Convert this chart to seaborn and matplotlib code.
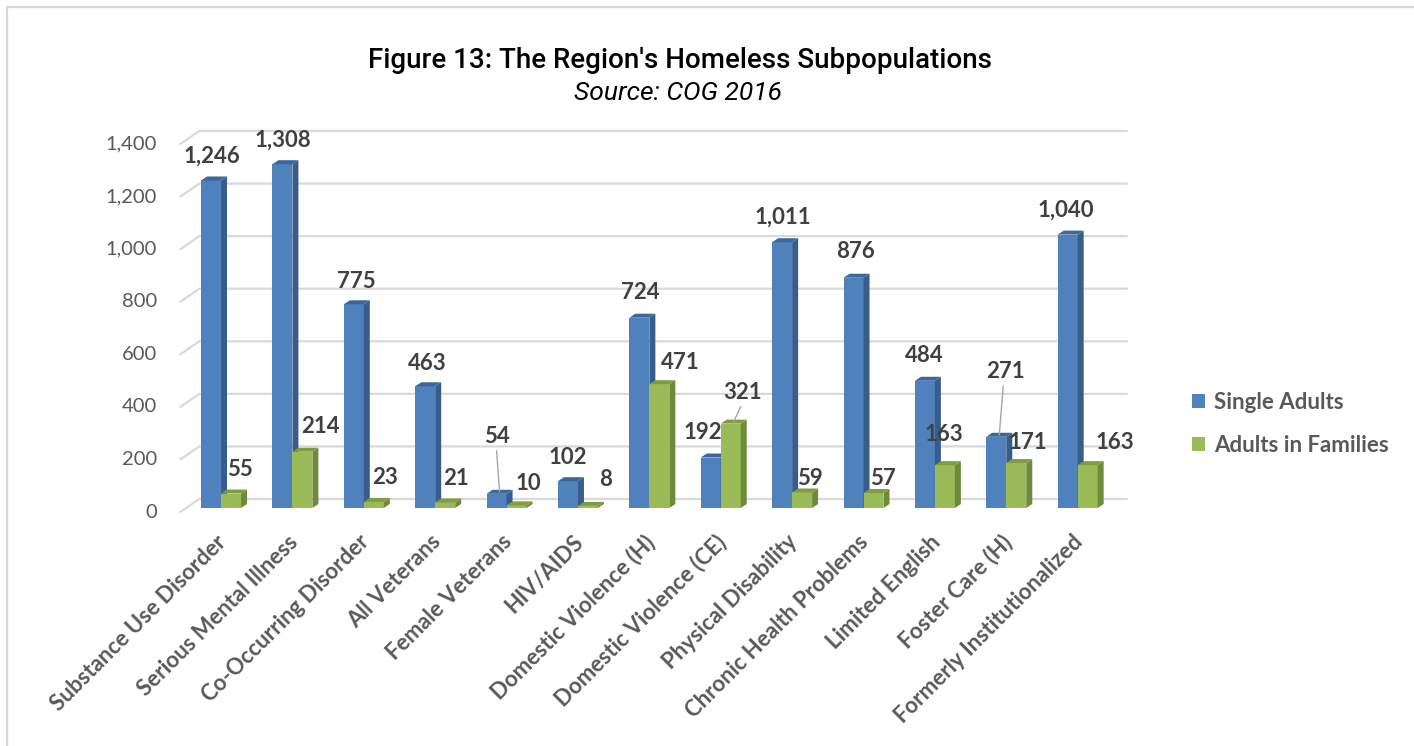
import matplotlib
matplotlib.use("Agg")
import matplotlib.pyplot as plt
import seaborn as sns
import pandas as pd
from matplotlib.patches import Polygon, Patch
from matplotlib.lines import Line2D
from matplotlib.transforms import IdentityTransform, ScaledTranslation

# ---- data -------------------------------------------------------------
categories = [
    "Substance Use Disorder", "Serious Mental Illness", "Co-Occurring Disorder",
    "All Veterans", "Female Veterans", "HIV/AIDS", "Domestic Violence (H)",
    "Domestic Violence (CE)", "Physical Disability", "Chronic Health Problems",
    "Limited English", "Foster Care (H)", "Formerly Institutionalized",
]
single_adults = [1246, 1308, 775, 463, 54, 102, 724, 192, 1011, 876, 484, 271, 1040]
adults_in_families = [55, 214, 23, 21, 10, 8, 471, 321, 59, 57, 163, 171, 163]
series_names = ["Single Adults", "Adults in Families"]
y_ticks = [0, 200, 400, 600, 800, 1000, 1200, 1400]

# ---- label placement (pixel offsets from the bar's front-top centre) ----
blue_lbl_dx = [1, 0, 3, 2, 0, 0, 1, -8, 1, 2, -1, 9, -2]
blue_lbl_dy = [24, 24, 23, 23, 57, 24, 25, 25, 25, 26, 25, 65, 24]
green_lbl_dx = [9, 18, 11, 11, 12, 18, 21, 12, 8, 9, -1, 12, 27]
green_lbl_dy = [24, 25, 24, 24, 22, 26, 22, 31, 14, 15, 31, 21, 23]
blue_leaders = {4, 11}
green_leaders = {7}

# ---- style ------------------------------------------------------------
BLUE, BLUE_SIDE, BLUE_TOP = "#4f81bd", "#385d8a", "#3d679b"
GREEN, GREEN_SIDE, GREEN_TOP = "#9bbb59", "#6e8a3a", "#7f9c45"
GRID = "#d9d9d9"
TICK_TXT = "#595959"
VAL_TXT = "#404040"
W, H = 1414, 746
BAR_DX, BAR_DY = 6, 4          # bar depth (px)
GRID_DX, GRID_DY = 19, 13      # back-wall offset (px)

df = pd.DataFrame({
    "Subpopulation": categories * 2,
    "Persons": single_adults + adults_in_families,
    "Group": [series_names[0]] * len(categories) + [series_names[1]] * len(categories),
})

sns.set_theme(style="white")
plt.rcParams["font.family"] = ["Lato", "DejaVu Sans"]

fig = plt.figure(figsize=(W / 100, H / 100), dpi=100)
fig.patch.set_facecolor("white")
ax = fig.add_axes([178.2 / W, (H - 508) / H, 953 / W, 368 / H])

sns.barplot(data=df, x="Subpopulation", y="Persons", hue="Group",
            palette=[BLUE, GREEN], width=0.56, gap=0, saturation=1,
            linewidth=0, legend=False, ax=ax)
ax.set_xlim(-0.6, 12.75)
ax.set_ylim(0, 1400)
ax.set_facecolor("none")
for s in ax.spines.values():
    s.set_visible(False)
ax.set_xlabel("")
ax.set_ylabel("")
ax.set_yticks([])
ax.grid(False)

ident = IdentityTransform()


def disp(x, y):
    return ax.transData.transform((x, y))


# back wall gridlines with the short diagonal floor edge on the left
x_front = disp(-0.57, 0)[0]
x_right = disp(12.69, 0)[0]
for v in y_ticks:
    _, yb = disp(0, v)
    yf = yb - 4
    ax.add_line(Line2D([x_front, x_front + GRID_DX, x_right],
                       [yf, yf + GRID_DY, yf + GRID_DY],
                       transform=ident, color=GRID, lw=1.6, clip_on=False, zorder=1))
    ax.text(157, yf, f"{v:,}", transform=ident, ha="right", va="center",
            fontsize=14.5, color=TICK_TXT)

# 3-D faces for each bar + value labels
series_style = [
    (BLUE_SIDE, BLUE_TOP, blue_lbl_dx, blue_lbl_dy, blue_leaders, 3),
    (GREEN_SIDE, GREEN_TOP, green_lbl_dx, green_lbl_dy, green_leaders, 4),
]
for container, vals, style in zip(ax.containers, [single_adults, adults_in_families], series_style):
    side, top, ldx, ldy, leaders, z = style
    for i, (bar, val) in enumerate(zip(container.patches, vals)):
        bar.set_zorder(z)
        x0, x1 = bar.get_x(), bar.get_x() + bar.get_width()
        (px0, py0), (px1, py1) = disp(x0, 0), disp(x1, bar.get_height())
        ax.add_patch(Polygon([(px1, py0), (px1 + BAR_DX, py0 + BAR_DY),
                              (px1 + BAR_DX, py1 + BAR_DY), (px1, py1)],
                             closed=True, transform=ident, facecolor=side,
                             edgecolor="none", zorder=z, clip_on=False))
        ax.add_patch(Polygon([(px0, py1), (px1, py1), (px1 + BAR_DX, py1 + BAR_DY),
                              (px0 + BAR_DX, py1 + BAR_DY)],
                             closed=True, transform=ident, facecolor=top,
                             edgecolor="none", zorder=z, clip_on=False))
        cx = (px0 + px1) / 2
        lx, ly = cx + ldx[i], py1 + ldy[i]
        ax.text(lx, ly, f"{val:,}", transform=ident, ha="center", va="center",
                fontsize=16, fontweight="bold", color=VAL_TXT, zorder=6)
        if i in leaders:
            ax.add_line(Line2D([lx - 2 * (ldx[i] > 4), cx + BAR_DX / 2],
                               [ly - 14, py1 + BAR_DY / 2],
                               transform=ident, color="#a6a6a6", lw=1.0,
                               clip_on=False, zorder=6))

# category labels
ax.tick_params(axis="x", length=0, pad=22)
ax.set_xticks(range(len(categories)))
ax.set_xticklabels(categories, rotation=45, ha="right", va="center",
                   rotation_mode="anchor", fontsize=16, fontweight="bold",
                   color=TICK_TXT)
for lbl in ax.get_xticklabels():
    lbl.set_transform(lbl.get_transform() + ScaledTranslation(2 / 100, 0, fig.dpi_scale_trans))

# legend
handles = [Patch(facecolor=BLUE, edgecolor="none"), Patch(facecolor=GREEN, edgecolor="none")]
leg = fig.legend(handles, series_names, loc="center left",
                 bbox_to_anchor=(1172 / W, 1 - 424 / H), frameon=False,
                 handlelength=0.6, handleheight=0.6, handletextpad=0.4,
                 labelspacing=1.0, prop={"size": 16, "weight": "bold"})
for t in leg.get_texts():
    t.set_color(TICK_TXT)

# titles
fig.text(680 / W, 1 - 60 / H, "Figure 13: The Region's Homeless Subpopulations",
         ha="center", va="center", fontsize=20, fontweight="medium", color="black",
         family=["Roboto", "DejaVu Sans"])
fig.text(678 / W, 1 - 93 / H, "Source: COG 2016", ha="center", va="center",
         fontsize=19, style="italic", color="black",
         family=["Roboto", "DejaVu Sans"])

# chart frame (only top/left edges fall inside the canvas)
fig.add_artist(Line2D([7 / W, 7 / W, 1.0], [0.0, 1 - 7 / H, 1 - 7 / H],
                      transform=fig.transFigure, color=GRID, lw=1.6))

fig.savefig("out.png", dpi=100, facecolor="white")
